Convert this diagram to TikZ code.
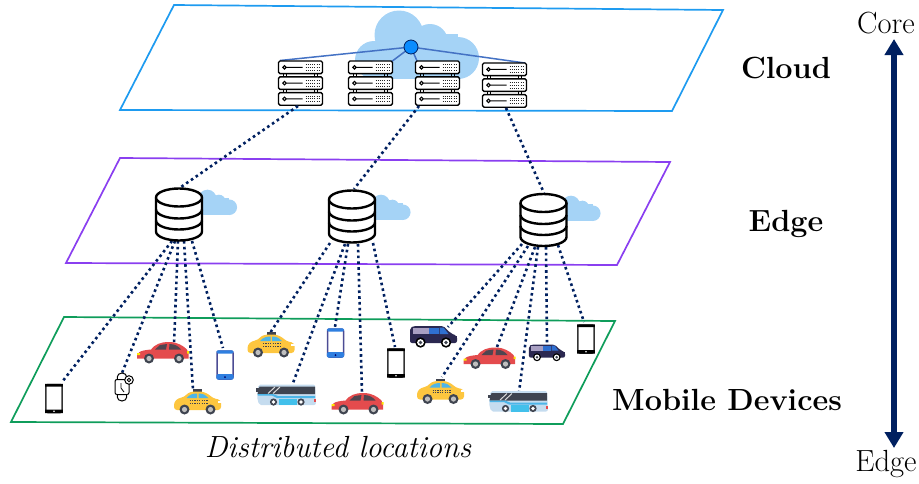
\documentclass[tikz,border=0pt]{standalone}
\usetikzlibrary{arrows.meta}
\definecolor{cloudblue}{HTML}{A5D3F6}
\definecolor{planeblue}{HTML}{1E9BF0}
\definecolor{planepurple}{HTML}{8A3FF0}
\definecolor{planegreen}{HTML}{0F9D5B}
\definecolor{navy}{HTML}{002060}
\definecolor{hub}{HTML}{0A8CFF}
\definecolor{hubline}{HTML}{4472C4}
\definecolor{carred}{HTML}{E44B4D}
\definecolor{taxiy}{HTML}{FDC63F}
\definecolor{winb}{HTML}{4DB5E8}
\definecolor{darkw}{HTML}{3F4450}
\definecolor{busb}{HTML}{C5DCEF}
\definecolor{vand}{HTML}{2B2850}
\definecolor{vanl}{HTML}{A89FC2}
\definecolor{vanb}{HTML}{2F6FD0}
\definecolor{phoneb}{HTML}{2F7FE0}
\tikzset{
  x=1pt,y=-1pt,
  plane/.style={line width=1.7pt,line join=miter},
  dotlink/.style={navy,line width=2.6pt,dash pattern=on 2.6pt off 3.2pt},
  hublink/.style={hubline,line width=1.5pt},
  lbl/.style={font=\fontsize{30.6}{34}\selectfont\bfseries,inner sep=0pt,anchor=center},
  plain/.style={font=\fontsize{30.6}{34}\selectfont,inner sep=0pt,anchor=base},
  wheel/.pic={\fill[darkw] (0,0) circle[radius=5]; \fill[white!75!black] (0,0) circle[radius=2.6];},
  cloudshape/.pic={
    \fill[cloudblue] (-42,-25) circle[radius=24.5] (-11,-18) circle[radius=18]
      (17,-2) circle[radius=21] (-67,0) circle[radius=19];
    \fill[cloudblue] (-67,-8) rectangle (17,19);
    \fill[cloudblue] (-44,-26) rectangle (17,0);
  },
  serverunit/.pic={
    \draw[black,line width=1.4pt,fill=white,rounded corners=1.5pt] (0,0) rectangle (44,12.6);
    \draw[black,line width=1.1pt] (6,6.3) circle[radius=1.7] (7.7,6.3) -- (24,6.3);
    \draw[black!85,line width=1pt,dash pattern=on 1.1pt off 1.1pt] (27,3.4) -- (41,3.4) (27,6.3) -- (41,6.3) (27,9.2) -- (41,9.2);
  },
  rack/.pic={
    \draw[black,line width=1.1pt] (5,12) -- (5,16.5) (8,12) -- (8,16.5) (36,12) -- (36,16.5) (39,12) -- (39,16.5)
      (5,28) -- (5,32) (8,28) -- (8,32) (36,28) -- (36,32) (39,28) -- (39,32);
    \pic at (0,0) {serverunit}; \pic at (0,15.8) {serverunit}; \pic at (0,31.6) {serverunit};
  },
  database/.pic={
    \fill[white] (-23,-17) rectangle (23,17);
    \draw[black,line width=2.4pt,fill=white] (-23,-17) -- (-23,17) arc[start angle=180,end angle=360,x radius=23,y radius=-9] -- (23,-17);
    \draw[black,line width=2.4pt,fill=white] (0,-17) ellipse[x radius=23,y radius=9];
    \draw[black,line width=2.4pt] (-23,-5) arc[start angle=180,end angle=360,x radius=23,y radius=-9]
      (-23,6) arc[start angle=180,end angle=360,x radius=23,y radius=-9];
  },
  phoneblack/.pic={
    \draw[black!80,line width=1.5pt,fill=white,rounded corners=2pt] (-8.2,-14) rectangle (8.2,14);
    \fill[black] (-8.9,11) rectangle (8.9,14.7) (-8.9,-14.7) rectangle (8.9,-12);
    \fill[white] (0,12.8) circle[radius=.9];
  },
  phoneblue/.pic={
    \draw[black!30!blue!40!gray,line width=1.5pt,fill=white,rounded corners=2pt] (-8,-14) rectangle (8,14);
    \fill[phoneb,rounded corners=1.5pt] (-8.7,9) rectangle (8.7,14.7) (-8.7,-14.7) rectangle (8.7,-11.5);
    \fill[black!60!blue] (0,12) circle[radius=1];
  },
  carpic/.pic={
    \fill[carred] (-26,6) .. controls (-26.5,0) and (-24,-2) .. (-12,-3) .. controls (-8,-8) and (-3,-10.5) .. (6,-10.5)
      .. controls (14,-10.5) and (20,-7) .. (24,-3) .. controls (26,0) and (26,3) .. (25.5,6) -- cycle;
    \fill[darkw!90!carred] (-8,-3) -- (-3,-7.5) -- (4,-8.5) -- (3,-3) -- cycle (6,-3) -- (6.5,-8.5) .. controls (12,-8.5) and (16,-6) .. (18,-3) -- cycle;
    \fill[yellow!90!orange] (-26,0.5) rectangle (-23,2.5) (24,-1.5) rectangle (26,1);
    \pic at (-14,6) {wheel}; \pic at (16,6) {wheel};
  },
  taxipic/.pic={
    \fill[darkw] (-4.5,-13) rectangle (4.5,-9.5);
    \fill[taxiy,rounded corners=3pt] (-23.5,8) -- (-23.5,0) -- (-19,-4) -- (-13,-5) .. controls (-9,-10) and (-4,-10.5) .. (0,-10.5)
      .. controls (6,-10.5) and (11,-8) .. (15,-4) -- (23.5,-2) -- (23.5,8) -- cycle;
    \fill[winb] (-11,-4) .. controls (-8,-8) and (-3,-8.5) .. (-0.5,-8.5) -- (-0.5,-4) -- cycle (1,-8.5) .. controls (6,-8.5) and (9,-6.5) .. (11,-4) -- (1,-4) -- cycle;
    \draw[darkw,line width=1.2pt,dash pattern=on 1.2pt off 1.2pt] (-8,-1.2) -- (10,-1.2) (-8,1.2) -- (10,1.2);
    \fill[white] (20,-1.5) rectangle (23.5,0.5);
    \pic at (-13,7.5) {wheel}; \pic at (13,7.5) {wheel};
  },
  buspic/.pic={
    \fill[busb,rounded corners=2pt] (-27.5,-10.5) -- (29,-10.5) -- (30,10) -- (-27,10) -- (-29,2) -- cycle;
    \fill[darkw] (-26.5,-8.5) -- (29,-8.5) -- (29,-1) -- (-28.5,-1) -- cycle;
    \fill[winb] (-28,0.5) -- (-14,0.5) -- (-9,3) -- (29,3) -- (29,1) -- (-8,1) -- (-13,-1) -- (-28.5,-1) -- cycle;
    \fill[winb!85!cyan] (-7,3.5) rectangle (10.5,10);
    \draw[white!70!gray,line width=1pt] (-18,-1.5) -- (-11,-8) (-13,-1.5) -- (-6,-8);
    \fill[darkw] (-30,-7) rectangle (-27.5,-3.5);
    \fill[carred] (28,4) rectangle (30,7);
    \fill[darkw] (-12.5,7) circle[radius=3.6] (15,7) circle[radius=3.6];
    \fill[white] (-12.5,7) circle[radius=1.8] (15,7) circle[radius=1.8];
  },
  vanpic/.pic={
    \fill[vand,rounded corners=2pt] (-23.5,6) -- (-23.5,-9) -- (-20,-11) -- (10,-11) -- (17,-4) -- (23.5,-1) -- (23.5,6) -- cycle;
    \fill[vanl] (-21,-9.5) rectangle (-5,-3);
    \fill[vanb] (-5,-9.5) rectangle (5,-3);
    \fill[vanb] (6,-9.5) -- (10,-9.5) -- (15,-3) -- (6,-3) -- cycle;
    \fill[vand] (-23.5,-1) rectangle (23.5,1.5);
    \foreach \wx in {-13,12.5}{
      \fill[black] (\wx,5.5) circle[radius=5.2];
      \fill[white] (\wx,5.5) circle[radius=3.4];
      \fill[darkw] (\wx,5.5) circle[radius=1.8];
    }
  },
  watchpic/.pic={
    \draw[black,line width=1pt,fill=white] (-4.7,-7.5) -- (-4.7,-10) arc[start angle=180,end angle=0,x radius=4.7,y radius=-4] -- (4.7,-7.5);
    \draw[black,line width=1pt,fill=white] (-4.7,7.5) -- (-4.7,10) arc[start angle=180,end angle=360,x radius=4.7,y radius=-4] -- (4.7,7.5);
    \draw[black,line width=1pt,fill=white,rounded corners=2pt] (-7,-7.5) rectangle (7,7.5);
    \draw[black,line width=.8pt] (-1,-4) -- (-1,1) -- (2,5);
    \draw[black,line width=1pt,fill=white] (7,-7) circle[radius=4.3];
    \draw[black,line width=.8pt] (7,-7) circle[radius=1.8];
  }
}
\begin{document}
\begin{tikzpicture}
\useasboundingbox (0,0) rectangle (919,483);
% planes
\draw[plane,planeblue] (174,5) -- (723,10) -- (672,111) -- (120,110) -- cycle;
\draw[plane,planepurple] (120,158) -- (670,162) -- (617,265) -- (66,263) -- cycle;
\draw[plane,planegreen] (64,317) -- (615,321) -- (563,424) -- (11,422) -- cycle;
% clouds
\pic at (441,60) {cloudshape};
\pic[scale=.37] at (223,208) {cloudshape};
\pic[scale=.37] at (396.5,213) {cloudshape};
\pic[scale=.37] at (586.5,214) {cloudshape};
% anchors for connectors
\coordinate (hubc) at (411,47);
\coordinate (r1t) at (280,60.5); \coordinate (r2t) at (391,62); \coordinate (r3t) at (417,61); \coordinate (r4t) at (525,63);
\coordinate (r1b) at (298,106); \coordinate (r3b) at (419,106); \coordinate (r4b) at (506,108);
\coordinate (d1t) at (181,187); \coordinate (d2t) at (354,189); \coordinate (d3t) at (544,193);
\coordinate (d1a) at (172,241); \coordinate (d1b) at (175,241); \coordinate (d1c) at (178,241); \coordinate (d1d) at (184,241); \coordinate (d1e) at (192,241);
\coordinate (d2a) at (330,243); \coordinate (d2b) at (345,244); \coordinate (d2c) at (348,244); \coordinate (d2d) at (358,244); \coordinate (d2e) at (373,243);
\coordinate (d3a) at (522,244); \coordinate (d3b) at (528,246); \coordinate (d3c) at (535,247); \coordinate (d3d) at (538,247); \coordinate (d3e) at (546,247); \coordinate (d3f) at (558,245);
\coordinate (ph1) at (62,382); \coordinate (wa1) at (122,373); \coordinate (ca1) at (174,345); \coordinate (ta1) at (193,390); \coordinate (pb1) at (223,348);
\coordinate (ta2) at (270,333); \coordinate (bu1) at (293,383); \coordinate (pb2) at (335,327); \coordinate (ca2) at (362,393); \coordinate (ph2) at (395,347);
\coordinate (va1) at (448,327); \coordinate (ta3) at (442,377); \coordinate (ca3) at (497,347); \coordinate (bu2) at (519,392); \coordinate (va2) at (547,343); \coordinate (ph3) at (584,322);
\coordinate (axt) at (894,39); \coordinate (axb) at (894,448);
% hub links
\draw[hublink] (hubc) -- (r1t) (hubc) -- (r2t) (hubc) -- (r3t) (hubc) -- (r4t);
% racks
\pic at (278.5,61) {rack};
\pic at (348.5,61) {rack};
\pic at (415.5,61) {rack};
\pic at (482.5,63) {rack};
\node[circle,draw=navy,fill=hub,line width=.8pt,minimum size=14pt,inner sep=0pt] (hubnode) at (hubc) {};
% dotted links
\draw[dotlink] (r1b) -- (d1t);
\draw[dotlink] (r3b) -- (d2t);
\draw[dotlink] (r4b) -- (d3t);
\draw[dotlink] (d1a) -- (ph1); \draw[dotlink] (d1b) -- (wa1); \draw[dotlink] (d1c) -- (ca1); \draw[dotlink] (d1d) -- (ta1); \draw[dotlink] (d1e) -- (pb1);
\draw[dotlink] (d2a) -- (ta2); \draw[dotlink] (d2b) -- (bu1); \draw[dotlink] (d2c) -- (pb2); \draw[dotlink] (d2d) -- (ca2); \draw[dotlink] (d2e) -- (ph2);
\draw[dotlink] (d3a) -- (va1); \draw[dotlink] (d3b) -- (ta3); \draw[dotlink] (d3c) -- (ca3); \draw[dotlink] (d3d) -- (bu2); \draw[dotlink] (d3e) -- (va2); \draw[dotlink] (d3f) -- (ph3);
% databases
\pic at (179,214.5) {database};
\pic at (352,216.5) {database};
\pic at (543.5,220) {database};
% devices
\pic at (54,398.5) {phoneblack};
\pic at (396,363) {phoneblack};
\pic at (586,339) {phoneblack};
\pic at (225,365) {phoneblue};
\pic at (335.5,343) {phoneblue};
\pic at (122,387) {watchpic};
\pic at (163,352.5) {carpic};
\pic at (357.5,403.5) {carpic};
\pic at (489.5,358) {carpic};
\pic at (197.5,402) {taxipic};
\pic at (271,345) {taxipic};
\pic at (440.5,391.5) {taxipic};
\pic at (286,395) {buspic};
\pic at (518,401.5) {buspic};
\pic at (433.5,337) {vanpic};
\pic[scale=.77] at (547,353) {vanpic};
% labels
\node[lbl] (tcloud) at (786,68) {Cloud};
\node[lbl] (tedge) at (786,224) {Edge};
\node[lbl] (tmobile) at (727,400) {Mobile Devices};
\node[plain,font=\fontsize{30.6}{34}\selectfont\itshape] (tdist) at (338,457) {Distributed locations};
\node[plain] (tcore) at (886,33) {Core};
\node[plain] (tedge2) at (886,471) {Edge};
% axis
\draw[navy,line width=6pt,{Triangle[length=16pt,width=18pt]}-{Triangle[length=16pt,width=18pt]}] (axt) -- (axb);
\end{tikzpicture}
\end{document}
